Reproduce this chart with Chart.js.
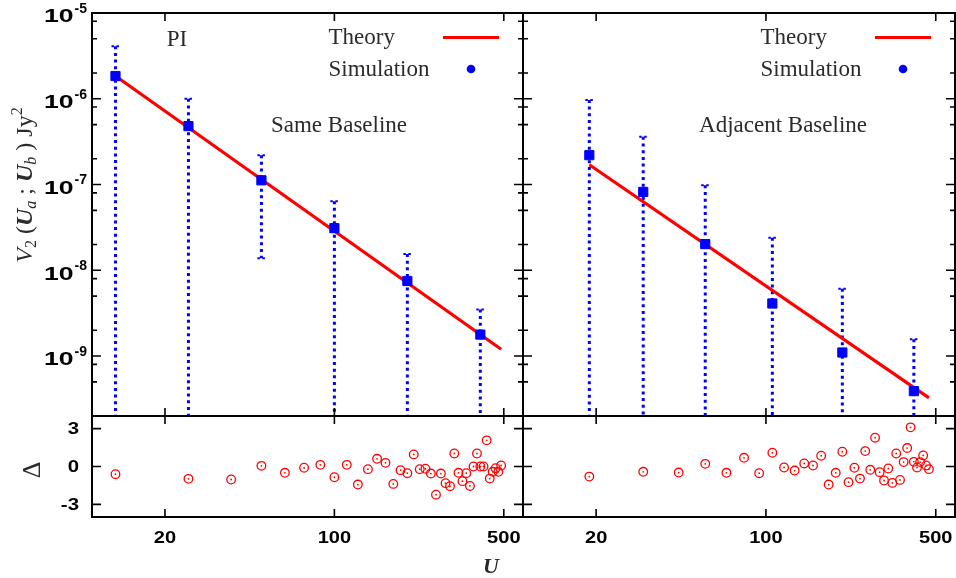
<!DOCTYPE html>
<html>
<head>
<meta charset="utf-8">
<script src="https://cdn.jsdelivr.net/npm/chart.js@4.4.1/dist/chart.umd.min.js"></script>
<style>
body { margin: 0; background: #fff; }
#wrap { position: relative; width: 956px; height: 578px; }
#wrap canvas { position: absolute; left: 0; top: 0; }
</style>
</head>
<body>
<div id="wrap">
  <canvas id="tl" width="956" height="578"></canvas>
  <canvas id="tr" width="956" height="578"></canvas>
  <canvas id="bl" width="956" height="578"></canvas>
  <canvas id="br" width="956" height="578"></canvas>
</div>
<script>
// same baseline panel
var simU_same = [12.5, 25, 50, 100, 200, 400];
var simV_same = [1.84e-6, 4.8e-7, 1.12e-7, 3.1e-8, 7.5e-9, 1.78e-9];
var errHi_same = [4.1e-6, 1.0e-6, 2.2e-7, 6.4e-8, 1.55e-8, 3.5e-9];
var errLo_same = [null, null, 1.38e-8, null, null, null];
var theoryU_same = [12.5, 487.5];
var theoryV_same = [1.84e-6, 1.2e-9];

// adjacent baseline panel
var simU_adj = [18.75, 31.25, 56.25, 106.25, 206.25, 406.25];
var simV_adj = [2.2e-7, 8.2e-8, 2.02e-8, 4.1e-9, 1.1e-9, 3.9e-10];
var errHi_adj = [9.7e-7, 3.6e-7, 9.8e-8, 2.4e-8, 6.1e-9, 1.57e-9];
var errLo_adj = [null, null, null, null, null, null];
var theoryU_adj = [18.75, 468.75];
var theoryV_adj = [1.7e-7, 3.25e-10];

// residuals
var resU_same = [12.5, 25, 37.5, 50, 62.5, 75, 87.5, 100, 112.5, 125, 137.5, 150, 162.5, 175, 187.5, 200,
  212.5, 225, 237.5, 250, 262.5, 275, 287.5, 300, 312.5, 325, 337.5, 350, 362.5, 375, 387.5, 400,
  412.5, 425, 437.5, 450, 462.5, 475, 487.5];
var resD_same = [-0.61, -0.98, -1.03, 0.05, -0.5, -0.1, 0.13, -0.85, 0.13, -1.43, -0.21, 0.61, 0.29, -1.38,
  -0.29, -0.53, 0.96, -0.21, -0.18, -0.56, -2.23, -0.56, -1.32, -1.56, 1.03, -0.5, -1.16, -0.53, -1.54,
  0.0, 1.03, 0.0, 0.0, 2.07, -0.96, -0.42, -0.13, -0.42, 0.08];
var resU_adj = [18.75, 31.25, 43.75, 56.25, 68.75, 81.25, 93.75, 106.25, 118.75, 131.25, 143.75, 156.25,
  168.75, 181.25, 193.75, 206.25, 218.75, 231.25, 243.75, 256.25, 268.75, 281.25, 293.75, 306.25,
  318.75, 331.25, 343.75, 356.25, 368.75, 381.25, 393.75, 406.25, 418.75, 431.25, 443.75, 456.25, 468.75];
var resD_adj = [-0.8, -0.42, -0.48, 0.21, -0.5, 0.69, -0.53, 1.09, -0.08, -0.32, 0.24, 0.08, 0.85, -1.43,
  -0.5, 1.17, -1.24, -0.1, -0.96, 1.22, -0.26, 2.28, -0.45, -1.11, -0.16, -1.3, 1.03, -1.06, 0.35, 1.46,
  3.1, 0.37, -0.08, 0.35, 0.88, 0.08, -0.21];

// ticks
var xTicks = [20, 100, 500];
var xTickLabels = ['20', '100', '500'];
var yMajor = [1e-5, 1e-6, 1e-7, 1e-8, 1e-9];
var yMajorExp = ['-5', '-6', '-7', '-8', '-9'];
var yMinor = [8e-6, 5e-6, 2e-6, 8e-7, 5e-7, 2e-7, 8e-8, 5e-8, 2e-8, 8e-9, 5e-9, 2e-9, 8e-10, 5e-10];
var resTicks = [3, 0, -3];
var resTickLabels = ['3', '0', '-3'];

var SANS = '"Liberation Sans", Arial, sans-serif';
var SERIF = '"Liberation Serif", "Times New Roman", serif';
var GREY = '#2b2b2b';

function pts(xs, ys) {
  return xs.map(function (x, i) { return { x: x, y: ys[i] }; });
}

function txt(ctx, s, x, y, font, align, sx, color) {
  ctx.save();
  ctx.font = font;
  ctx.fillStyle = color || '#000';
  ctx.textAlign = align;
  ctx.textBaseline = 'middle';
  ctx.translate(x, y);
  ctx.scale(sx || 1, 1);
  ctx.fillText(s, 0, 0);
  ctx.restore();
}

function drawFrame(chart, major, minor) {
  var ctx = chart.ctx, a = chart.chartArea, x = chart.scales.x, y = chart.scales.y;
  ctx.save();
  ctx.strokeStyle = '#000';
  ctx.lineWidth = 2;
  ctx.strokeRect(a.left, a.top, a.right - a.left, a.bottom - a.top);
  ctx.lineWidth = 1.6;
  ctx.beginPath();
  xTicks.forEach(function (v) {
    var p = x.getPixelForValue(v);
    ctx.moveTo(p, a.top); ctx.lineTo(p, a.top + 8);
    ctx.moveTo(p, a.bottom); ctx.lineTo(p, a.bottom - 8);
  });
  major.forEach(function (v) {
    var p = y.getPixelForValue(v);
    ctx.moveTo(a.left, p); ctx.lineTo(a.left + 9, p);
    ctx.moveTo(a.right, p); ctx.lineTo(a.right - 9, p);
  });
  (minor || []).forEach(function (v) {
    var p = y.getPixelForValue(v);
    ctx.moveTo(a.left, p); ctx.lineTo(a.left + 5, p);
    ctx.moveTo(a.right, p); ctx.lineTo(a.right - 5, p);
  });
  ctx.stroke();
  ctx.restore();
}

function drawErrBars(chart, us, his, los) {
  var ctx = chart.ctx, a = chart.chartArea, x = chart.scales.x, y = chart.scales.y;
  ctx.save();
  ctx.beginPath();
  ctx.rect(a.left, a.top, a.right - a.left, a.bottom - a.top);
  ctx.clip();
  ctx.strokeStyle = '#0000ff';
  ctx.lineWidth = 3;
  us.forEach(function (u, i) {
    var px = x.getPixelForValue(u);
    var top = y.getPixelForValue(his[i]);
    var bot = los[i] ? y.getPixelForValue(los[i]) : a.bottom + 4;
    ctx.setLineDash([3, 3.7]);
    ctx.beginPath();
    ctx.moveTo(px, top); ctx.lineTo(px, bot);
    ctx.stroke();
    ctx.setLineDash([2.5, 2.5]);
    ctx.lineWidth = 2;
    ctx.beginPath();
    ctx.moveTo(px - 4, top); ctx.lineTo(px + 4, top);
    if (los[i]) { ctx.moveTo(px - 4, bot); ctx.lineTo(px + 4, bot); }
    ctx.stroke();
    ctx.lineWidth = 3;
  });
  ctx.restore();
}

function drawLegend(chart) {
  var ctx = chart.ctx, a = chart.chartArea;
  var f = '23px ' + SERIF;
  txt(ctx, 'Theory', a.right - 194.5, 38, f, 'left', 1, GREY);
  txt(ctx, 'Simulation', a.right - 194.5, 70, f, 'left', 1, GREY);
  ctx.save();
  ctx.strokeStyle = '#ff0000';
  ctx.lineWidth = 3.2;
  ctx.beginPath();
  ctx.moveTo(a.right - 80, 37.5); ctx.lineTo(a.right - 24, 37.5);
  ctx.stroke();
  ctx.fillStyle = '#0000ff';
  ctx.beginPath();
  ctx.arc(a.right - 52, 69, 4.3, 0, Math.PI * 2);
  ctx.fill();
  ctx.restore();
}

function drawYTitle(ctx) {
  var parts = [
    ['V', 'italic 24px ' + SERIF, 0],
    ['2', '16px ' + SERIF, 4],
    [' (', '24px ' + SERIF, 0],
    ['U', 'bold italic 24px ' + SERIF, 0],
    ['a', 'italic 16px ' + SERIF, 4],
    [' ; ', '24px ' + SERIF, 0],
    ['U', 'bold italic 24px ' + SERIF, 0],
    ['b', 'italic 16px ' + SERIF, 4],
    [' ) Jy', '24px ' + SERIF, 0],
    ['2', '16px ' + SERIF, -10]
  ];
  ctx.save();
  ctx.translate(24, 185);
  ctx.rotate(-Math.PI / 2);
  ctx.fillStyle = GREY;
  ctx.textBaseline = 'alphabetic';
  ctx.textAlign = 'left';
  var total = 0;
  parts.forEach(function (p) { ctx.font = p[1]; total += ctx.measureText(p[0]).width; });
  var cx = -total / 2;
  parts.forEach(function (p) {
    ctx.font = p[1];
    ctx.fillText(p[0], cx, 8 + p[2]);
    cx += ctx.measureText(p[0]).width;
  });
  ctx.restore();
}

function panel(id, pad, yScale, datasets, before, after) {
  return new Chart(document.getElementById(id), {
    type: 'scatter',
    data: { datasets: datasets },
    options: {
      responsive: false,
      animation: false,
      devicePixelRatio: 1,
      layout: { padding: pad, autoPadding: false },
      plugins: { legend: { display: false }, tooltip: { enabled: false } },
      scales: {
        x: { type: 'logarithmic', min: 10, max: 600, display: false },
        y: yScale
      }
    },
    plugins: [{
      id: 'deco',
      beforeDatasetsDraw: function (c) { if (before) before(c); },
      afterDatasetsDraw: function (c) { if (after) after(c); }
    }]
  });
}

function simSets(us, vs, tu, tv) {
  return [
    { data: pts(us, vs), pointStyle: 'rect', pointRadius: 6.5, backgroundColor: '#0000ff',
      borderColor: '#0000ff', borderWidth: 1, showLine: false, order: 0 },
    { data: pts(tu, tv), showLine: true, borderColor: '#ff0000', borderWidth: 3.2,
      pointRadius: 0, order: 1 }
  ];
}

function resSets(us, ds) {
  return [
    { data: pts(us, ds), pointStyle: 'circle', pointRadius: 4.3, borderColor: '#ff0000',
      backgroundColor: 'rgba(0,0,0,0)', borderWidth: 1.3, showLine: false },
    { data: pts(us, ds), pointStyle: 'circle', pointRadius: 0.9, backgroundColor: '#ff0000',
      borderWidth: 0, showLine: false }
  ];
}

var yTop = { type: 'logarithmic', min: 2e-10, max: 1e-5, display: false };
var yBot = { type: 'linear', min: -4, max: 4, display: false };

window.onload = function () {
  panel('tl', { left: 92, top: 13, right: 433, bottom: 162 }, yTop,
    simSets(simU_same, simV_same, theoryU_same, theoryV_same),
    function (c) { drawErrBars(c, simU_same, errHi_same, errLo_same); },
    function (c) {
      var ctx = c.ctx, a = c.chartArea, y = c.scales.y;
      drawFrame(c, yMajor, yMinor);
      drawLegend(c);
      txt(ctx, 'PI', a.left + 85, 40, '23px ' + SERIF, 'center', 1, GREY);
      txt(ctx, 'Same Baseline', a.left + 247, 126, '23px ' + SERIF, 'center', 1, GREY);
      yMajor.forEach(function (v, i) {
        var p = y.getPixelForValue(v);
        ctx.font = 'bold 14px ' + SANS;
        var w = ctx.measureText(yMajorExp[i]).width;
        txt(ctx, yMajorExp[i], a.left - 5, p - 4, 'bold 14px ' + SANS, 'right', 1);
        txt(ctx, '10', a.left - 6 - w, p + 4, 'bold 19px ' + SANS, 'right', 1.4);
      });
      drawYTitle(ctx);
    });

  panel('tr', { left: 523, top: 13, right: 1, bottom: 162 }, yTop,
    simSets(simU_adj, simV_adj, theoryU_adj, theoryV_adj),
    function (c) { drawErrBars(c, simU_adj, errHi_adj, errLo_adj); },
    function (c) {
      var a = c.chartArea;
      drawFrame(c, yMajor, yMinor);
      drawLegend(c);
      txt(c.ctx, 'Adjacent Baseline', a.left + 260, 126, '23px ' + SERIF, 'center', 1, GREY);
    });

  panel('bl', { left: 92, top: 416, right: 433, bottom: 61 }, yBot,
    resSets(resU_same, resD_same), null,
    function (c) {
      var ctx = c.ctx, a = c.chartArea, x = c.scales.x, y = c.scales.y;
      drawFrame(c, resTicks, null);
      resTicks.forEach(function (v, i) {
        txt(ctx, resTickLabels[i], a.left - 13, y.getPixelForValue(v) + 1, 'bold 17px ' + SANS, 'right', 1.2);
      });
      xTicks.forEach(function (v, i) {
        txt(ctx, xTickLabels[i], x.getPixelForValue(v), 538, 'bold 17px ' + SANS, 'center', 1.18);
      });
      txt(ctx, 'U', a.right - 32, 567, 'bold italic 22px ' + SERIF, 'center', 1, GREY);
      ctx.save();
      ctx.translate(33, 470);
      ctx.rotate(-Math.PI / 2);
      txt(ctx, '\u0394', 0, 0, '26px ' + SERIF, 'center', 1, GREY);
      ctx.restore();
    });

  panel('br', { left: 523, top: 416, right: 1, bottom: 61 }, yBot,
    resSets(resU_adj, resD_adj), null,
    function (c) {
      var x = c.scales.x;
      drawFrame(c, resTicks, null);
      xTicks.forEach(function (v, i) {
        txt(c.ctx, xTickLabels[i], x.getPixelForValue(v), 538, 'bold 17px ' + SANS, 'center', 1.18);
      });
    });
};
</script>
</body>
</html>
